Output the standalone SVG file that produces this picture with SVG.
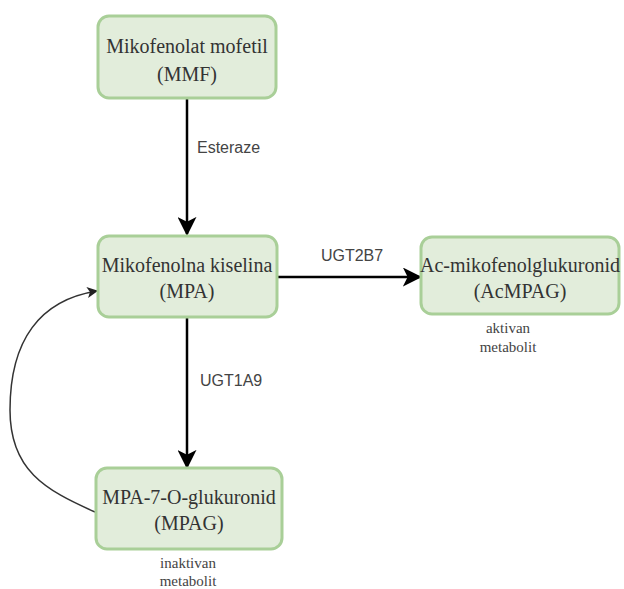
<svg xmlns="http://www.w3.org/2000/svg" width="624" height="589" viewBox="0 0 624 589">
<style>
.box{fill:#e2eddb;stroke:#a9cf98;stroke-width:3}
.nt{font-family:"Liberation Serif","Times New Roman",serif;font-size:20px;fill:#333;text-anchor:middle}
.sub{font-family:"Liberation Serif","Times New Roman",serif;font-size:15px;fill:#444;text-anchor:middle}
.el{font-family:"Liberation Sans",Arial,sans-serif;font-size:16px;fill:#444}
.edge{stroke:#000;stroke-width:2.5;fill:none}
.curve{stroke:#333;stroke-width:1.5;fill:none}
</style>
<defs>
<marker id="ah" viewBox="0 0 10 10" refX="9" refY="5" markerWidth="7" markerHeight="7" markerUnits="userSpaceOnUse" orient="auto">
<path d="M0,0 L10,5 L0,10 L2.5,5 z" fill="#000"/>
</marker>
<marker id="ah2" viewBox="0 0 10 10" refX="9" refY="5" markerWidth="11" markerHeight="11" markerUnits="userSpaceOnUse" orient="auto">
<path d="M0,0 L10,5 L0,10 L2.5,5 z" fill="#222"/>
</marker>
<marker id="ahb" viewBox="0 0 10 10" refX="9" refY="5" markerWidth="19" markerHeight="19" markerUnits="userSpaceOnUse" orient="auto">
<path d="M0,0 L10,5 L0,10 L2.5,5 z" fill="#000"/>
</marker>
</defs>
<g id="connectors">
<line class="edge" x1="187" y1="99" x2="187" y2="234" marker-end="url(#ahb)"/>
<text class="el" x="197" y="153">Esteraze</text>
<line class="edge" x1="278" y1="277" x2="420" y2="277" marker-end="url(#ahb)"/>
<text class="el" x="352" y="261" text-anchor="middle">UGT2B7</text>
<line class="edge" x1="187" y1="318" x2="187" y2="467" marker-end="url(#ahb)"/>
<text class="el" x="200" y="386">UGT1A9</text>
<path class="curve" d="M95,512 C45,490 10,470 10,410 C10,340 40,300 97,291" marker-end="url(#ah2)"/>
</g>
<g id="mmf">
<rect class="box" x="98" y="16" width="178" height="82" rx="11"/>
<text class="nt" x="187" y="53">Mikofenolat mofetil</text>
<text class="nt" x="187" y="81">(MMF)</text>
</g>
<g id="mpa">
<rect class="box" x="98" y="236" width="179" height="81" rx="11"/>
<text class="nt" x="187" y="272">Mikofenolna kiselina</text>
<text class="nt" x="187" y="298">(MPA)</text>
</g>
<g id="acmpag">
<rect class="box" x="421" y="237" width="198" height="77" rx="11"/>
<text class="nt" x="520" y="272">Ac-mikofenolglukuronid</text>
<text class="nt" x="520" y="298">(AcMPAG)</text>
<text class="sub" x="508" y="333">aktivan</text>
<text class="sub" x="508" y="352">metabolit</text>
</g>
<g id="mpag">
<rect class="box" x="96" y="468" width="186" height="81" rx="11"/>
<text class="nt" x="189" y="504">MPA-7-O-glukuronid</text>
<text class="nt" x="189" y="530">(MPAG)</text>
<text class="sub" x="188" y="568">inaktivan</text>
<text class="sub" x="188" y="586">metabolit</text>
</g>
</svg>
